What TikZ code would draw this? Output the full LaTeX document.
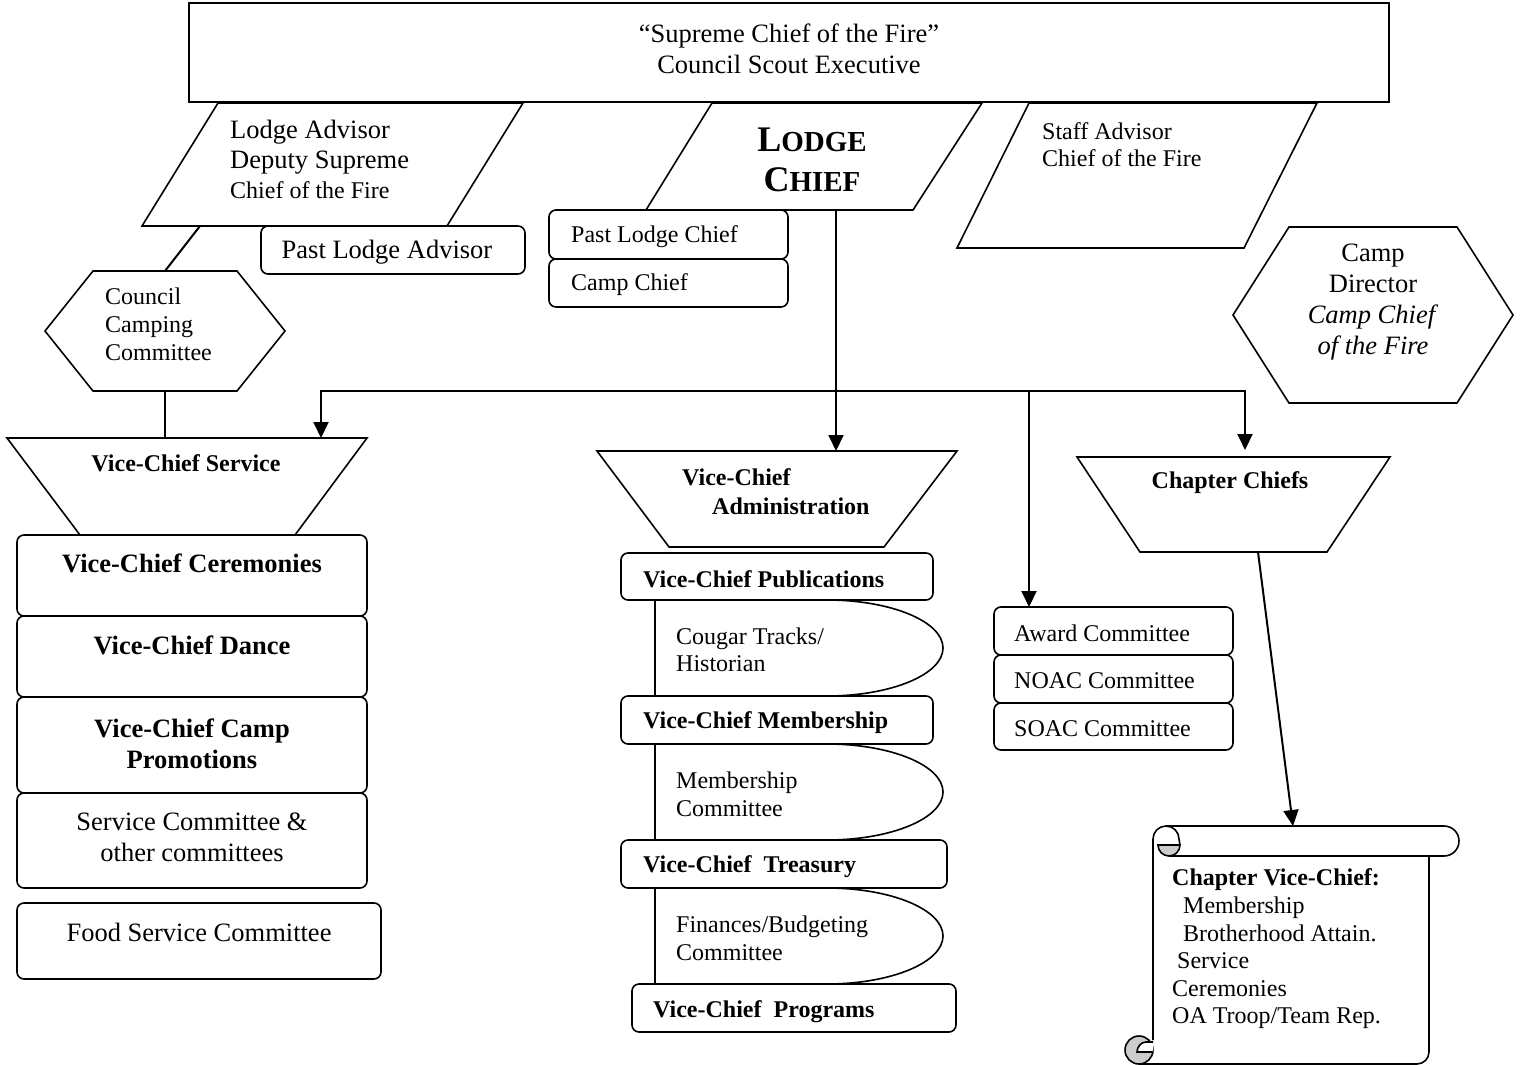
\documentclass[tikz,border=0pt]{standalone}
\usepackage{fontspec}
\setmainfont{Liberation Serif}
\usetikzlibrary{arrows.meta}
\tikzset{
  shp/.style={draw=black, line width=1.6pt, line join=miter},
  rbox/.style={draw=black, line width=1.6pt, rounded corners=7pt},
  conn/.style={draw=black, line width=2pt},
  arr/.style={-{Triangle[length=16pt,width=15pt]}},
  big/.style={inner sep=0pt, font=\fontsize{26.5}{31}\selectfont},
  sml/.style={inner sep=0pt, font=\fontsize{24}{27.5}\selectfont},
}
\begin{document}
\begin{tikzpicture}[x=1pt,y=-1pt]
\useasboundingbox[fill=white] (0,0) rectangle (1520,1065);

% top box
\draw[draw=black, line width=2.8pt] (189,3) rectangle (1389,102);

% parallelograms
\draw[shp] (218,103) -- (523,103) -- (447,226) -- (142,226) -- cycle;
\draw[shp] (712,103) -- (982,103) -- (913,210) -- (646,210) -- cycle;
\draw[shp] (1029,103) -- (1317,103) -- (1244,248) -- (957,248) -- cycle;

% small boxes under top row
\draw[rbox] (261,226) rectangle (525,274);
\draw[rbox] (549,210) rectangle (788,259);
\draw[rbox] (549,259) rectangle (788,307);

% hexagons
\draw[shp] (93,271) -- (237,271) -- (285,331) -- (237,391) -- (93,391) -- (45,331) -- cycle;
\draw[shp] (1289,227) -- (1457,227) -- (1513,315) -- (1457,403) -- (1289,403) -- (1233,315) -- cycle;

% trapezoids
\draw[shp] (7,438) -- (367,438) -- (295,535) -- (80,535) -- cycle;
\draw[shp] (597,451) -- (957,451) -- (884,547) -- (669,547) -- cycle;
\draw[shp] (1077,457) -- (1390,457) -- (1327,552) -- (1140,552) -- cycle;

% left column boxes
\draw[rbox] (17,535) rectangle (367,616);
\draw[rbox] (17,616) rectangle (367,697);
\draw[rbox] (17,697) rectangle (367,793);
\draw[rbox] (17,793) rectangle (367,888);
\draw[rbox] (17,903) rectangle (381,979);

% middle column
\draw[rbox] (621,553) rectangle (933,600);
\draw[shp] (655,600) -- (655,696);
\draw[shp] (655,600) -- (827,600) .. controls (891,600) and (943,621.5) .. (943,648)
  .. controls (943,674.5) and (891,696) .. (827,696) -- (655,696);
\draw[rbox] (621,696) rectangle (933,744);
\draw[shp] (655,744) -- (655,840);
\draw[shp] (655,744) -- (827,744) .. controls (891,744) and (943,765.5) .. (943,792)
  .. controls (943,818.5) and (891,840) .. (827,840) -- (655,840);
\draw[rbox] (621,840) rectangle (947,888);
\draw[shp] (655,888) -- (655,984);
\draw[shp] (655,888) -- (827,888) .. controls (891,888) and (943,909.5) .. (943,936)
  .. controls (943,962.5) and (891,984) .. (827,984) -- (655,984);
\draw[rbox] (632,984) rectangle (956,1032);

% committees right
\draw[rbox] (994,607) rectangle (1233,655);
\draw[rbox] (994,655) rectangle (1233,703);
\draw[rbox] (994,703) rectangle (1233,750);

% scroll
\draw[shp, line join=round] (1166,826) -- (1444,826)
  .. controls (1452.3,826) and (1459,832.7) .. (1459,841)
  .. controls (1459,849.3) and (1452.3,856) .. (1444,856) -- (1169,856);
\draw[shp, line join=round] (1153,1040) -- (1153,839)
  .. controls (1153,831.8) and (1158.8,826) .. (1166,826)
  .. controls (1173.2,826) and (1179,831.8) .. (1179,839) -- (1180,845);
\draw[shp, fill=gray!40] (1158,845) -- (1180,845)
  .. controls (1180,851.1) and (1175.1,856) .. (1169,856)
  .. controls (1162.9,856) and (1158,851.1) .. (1158,845) -- cycle;
\draw[shp, line join=round] (1429,856) -- (1429,1052)
  .. controls (1429,1058.6) and (1423.6,1064) .. (1417,1064) -- (1139,1064);
\draw[shp, fill=gray!40] (1139,1050) circle[radius=14];
\draw[shp, fill=white] (1153,1042) -- (1146,1042) .. controls (1141,1042) and (1137,1047) .. (1137,1052) -- (1153,1052);

% connector coordinates
\coordinate (ladvB) at (200,226);
\coordinate (ccT) at (165,271);
\coordinate (ccB) at (165,391);
\coordinate (vcsT) at (165,438);
\coordinate (lcB) at (836,210);
\coordinate (admT) at (836,451);
\coordinate (busL) at (321,391);
\coordinate (busR) at (1245,391);
\coordinate (busA) at (1029,391);
\coordinate (vcsArr) at (321,438);
\coordinate (awT) at (1029,607);
\coordinate (chT) at (1245,450);
\coordinate (chB) at (1258,552);
\coordinate (scT) at (1293,826);

\draw[conn] (ladvB) -- (ccT);
\draw[conn] (ccB) -- (vcsT);
\draw[conn,arr] (lcB) -- (admT);
\draw[conn,{Triangle[length=16pt,width=15pt]}-{Triangle[length=16pt,width=15pt]}] (vcsArr) -- (busL) -- (busR) -- (chT);
\draw[conn,arr] (busA) -- (awT);
\draw[conn,arr] (chB) -- (scT);

% texts
\node[big, align=center] (topT) at (789,48.5) {“Supreme Chief of the Fire”\\Council Scout Executive};
\node[inner sep=0pt, anchor=west, align=left, font=\fontsize{26.5}{30}\selectfont] (ladvT) at (230,159.5)
  {Lodge Advisor\\Deputy Supreme\\{\fontsize{24}{29}\selectfont Chief of the Fire}};
\node[big] (plaT) at (387,252) {Past Lodge Advisor};
\node[inner sep=0pt, align=center, font=\bfseries\fontsize{29}{40}\selectfont] (lchT) at (812,160)
  {{\fontsize{36}{40}\selectfont L}ODGE\\{\fontsize{36}{40}\selectfont C}HIEF};
\node[sml, anchor=west] (plcT) at (571,237) {Past Lodge Chief};
\node[sml, anchor=west] (ccT2) at (571,285) {Camp Chief};
\node[sml, anchor=west, align=left] (staffT) at (1042,144.5) {Staff Advisor\\Chief of the Fire};
\node[big, align=center] (cdT) at (1373,302) {Camp\\Director\\\textit{Camp Chief}\\\textit{of the Fire}};
\node[inner sep=0pt, anchor=west, align=left, font=\fontsize{24}{28}\selectfont] (cccT) at (105,324) {Council\\Camping\\Committee};
\node[sml, font=\bfseries\fontsize{24}{27.5}\selectfont] (vcsT2) at (186,463) {Vice-Chief Service};
\node[big, font=\bfseries\fontsize{26.5}{31}\selectfont] (cerT) at (192,563) {Vice-Chief Ceremonies};
\node[big, font=\bfseries\fontsize{26.5}{31}\selectfont] (danT) at (192,645) {Vice-Chief Dance};
\node[big, font=\bfseries\fontsize{26.5}{31}\selectfont, align=center] (proT) at (192,743.5) {Vice-Chief Camp\\Promotions};
\node[big, align=center] (svcT) at (192,837.5) {Service Committee \&\\other committees};
\node[big] (foodT) at (199,932) {Food Service Committee};
\node[inner sep=0pt, anchor=west, align=left, font=\bfseries\fontsize{24}{29}\selectfont] (admT2) at (682,491.5) {Vice-Chief\\\hspace*{30pt}Administration};
\node[sml, font=\bfseries\fontsize{24}{27.5}\selectfont] (chT2) at (1230,483) {Chapter Chiefs};
\node[sml, anchor=west, font=\bfseries\fontsize{24}{27.5}\selectfont] (pubT) at (643,579) {Vice-Chief Publications};
\node[inner sep=0pt, anchor=west, align=left, font=\fontsize{24}{26.5}\selectfont] (cougT) at (676,650) {Cougar Tracks/\\Historian};
\node[sml, anchor=west, font=\bfseries\fontsize{24}{27.5}\selectfont] (memT) at (643,723) {Vice-Chief Membership};
\node[sml, anchor=west, align=left] (memcT) at (676,794.5) {Membership\\Committee};
\node[sml, anchor=west, font=\bfseries\fontsize{24}{27.5}\selectfont] (treT) at (643,867) {Vice-Chief\ \ Treasury};
\node[sml, anchor=west, align=left] (finT) at (676,938.5) {Finances/Budgeting\\Committee};
\node[sml, anchor=west, font=\bfseries\fontsize{24}{27.5}\selectfont] (proG) at (653,1012) {Vice-Chief\ \ Programs};
\node[sml, anchor=west] (awT2) at (1014,633) {Award Committee};
\node[sml, anchor=west] (noT) at (1014,681) {NOAC Committee};
\node[sml, anchor=west] (soT) at (1014,729) {SOAC Committee};
\node[inner sep=0pt, anchor=west, align=left, font=\fontsize{24}{27.6}\selectfont] (scrT) at (1172,949)
  {\textbf{Chapter Vice-Chief:}\\\hspace*{11pt}Membership\\\hspace*{11pt}Brotherhood Attain.\\\hspace*{5pt}Service\\Ceremonies\\OA Troop/Team Rep.};
\end{tikzpicture}
\end{document}
